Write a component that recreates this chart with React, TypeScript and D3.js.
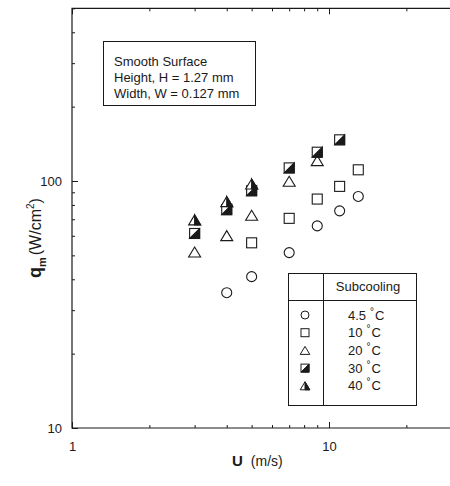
import * as d3 from "d3";
import { useEffect, useRef } from "react";

// flow velocity U (m/s), one column of markers per value
const speeds = [3, 4, 5, 7, 9, 11, 13];

// maximum heat flux q_m (W/cm2), null = no point
const sub45 = [null, 35.3, 41.0, 51.3, 65.8, 75.7, 86.6];
const sub10 = [null, null, 56.2, 70.6, 84.5, 95.1, 111];
const sub20 = [51.6, 60.1, 72.7, 99.7, 120.9, null, null];
const sub30 = [61.3, 76.6, 91.3, 113, 130.8, 146.8, null];
const sub40 = [69.6, 82.5, 97.2, null, null, null, null];

const legendLabels = ["4.5", "10", "20", "30", "40"];
const infoLines = ["Smooth Surface", "Height, H = 1.27 mm", "Width, W = 0.127 mm"];

const xMajor = [1, 10];
const xMinor = [2, 3, 4, 5, 6, 7, 8, 9, 20, 30];
const yMajor = [10, 100];
const yMinor = [20, 30, 40, 50, 60, 70, 80, 90, 200, 300, 400, 500];

type Shape = "circle" | "square" | "triangle" | "halfSquare" | "halfTriangle";
const shapes: Shape[] = ["circle", "square", "triangle", "halfSquare", "halfTriangle"];
const seriesList = [sub45, sub10, sub20, sub30, sub40];

const FONT = "'Liberation Sans', Arial, Helvetica, sans-serif";
const INK = "#1a1a1a";

// draws one marker of a given shape centred at (cx, cy)
const drawMarker = (
	g: d3.Selection<SVGGElement, unknown, null, undefined>,
	shape: Shape,
	cx: number,
	cy: number,
	s: number
) => {
	const h = s / 2;
	if (shape === "circle") {
		g.append("circle")
			.attr("cx", cx)
			.attr("cy", cy)
			.attr("r", h)
			.attr("fill", "white")
			.attr("stroke", INK);
	} else if (shape === "square" || shape === "halfSquare") {
		g.append("rect")
			.attr("x", cx - h)
			.attr("y", cy - h)
			.attr("width", s)
			.attr("height", s)
			.attr("fill", "white")
			.attr("stroke", INK);
		if (shape === "halfSquare") {
			g.append("path")
				.attr("d", `M${cx - h},${cy + h}L${cx + h},${cy - h}L${cx + h},${cy + h}Z`)
				.attr("fill", INK)
				.attr("stroke", INK);
		}
	} else {
		const w = s * 0.6;
		g.append("path")
			.attr("d", `M${cx},${cy - h}L${cx + w},${cy + h}L${cx - w},${cy + h}Z`)
			.attr("fill", "white")
			.attr("stroke", INK)
			.attr("stroke-linejoin", "miter");
		if (shape === "halfTriangle") {
			g.append("path")
				.attr("d", `M${cx},${cy - h}L${cx + w},${cy + h}L${cx},${cy + h}Z`)
				.attr("fill", INK)
				.attr("stroke", INK);
		}
	}
};

const App = () => {
	const svgRef = useRef<SVGSVGElement>(null);

	useEffect(() => {
		if (!svgRef.current) return;

		const width = 450;
		const height = 486;
		const left = 72;
		const bottom = 428;
		const xDecade = 257;
		const yDecade = 247;

		const svg = d3.select(svgRef.current).attr("width", width).attr("height", height);
		svg.selectAll("*").remove();

		const x = d3
			.scaleLog()
			.domain([1, 30])
			.range([left, left + xDecade * Math.log10(30)]);
		const y = d3
			.scaleLog()
			.domain([10, 500])
			.range([bottom, bottom - yDecade * Math.log10(50)]);

		const top = y(500);
		const right = width;

		// cadre : gauche, bas, haut
		svg.append("path")
			.attr("d", `M${right},${top}H${left}V${bottom}H${right}`)
			.attr("fill", "none")
			.attr("stroke", INK)
			.attr("stroke-width", 1.2);

		const axisStyle = (sel: d3.Selection<SVGGElement, unknown, null, undefined>) => {
			sel.select(".domain").remove();
			sel.selectAll("line").attr("stroke", INK);
			sel.selectAll("text")
				.attr("font-family", FONT)
				.attr("font-size", 13)
				.attr("fill", INK);
		};

		// axe des y (ticks vers l'intérieur)
		svg.append("g")
			.attr("transform", `translate(${left},0)`)
			.call(d3.axisLeft(y).tickValues(yMajor).tickSizeInner(-6).tickSizeOuter(0).tickPadding(10).tickFormat(d3.format("d")))
			.call(axisStyle);
		svg.append("g")
			.attr("transform", `translate(${left},0)`)
			.call(d3.axisLeft(y).tickValues(yMinor).tickSizeInner(-3).tickSizeOuter(0).tickFormat(() => ""))
			.call(axisStyle);

		// axe des x en bas
		svg.append("g")
			.attr("transform", `translate(0,${bottom})`)
			.call(d3.axisBottom(x).tickValues(xMajor).tickSizeInner(-6).tickSizeOuter(0).tickPadding(14).tickFormat(d3.format("d")))
			.call(axisStyle);
		svg.append("g")
			.attr("transform", `translate(0,${bottom})`)
			.call(d3.axisBottom(x).tickValues(xMinor).tickSizeInner(-3).tickSizeOuter(0).tickFormat(() => ""))
			.call(axisStyle);

		// axe des x en haut
		svg.append("g")
			.attr("transform", `translate(0,${top})`)
			.call(d3.axisTop(x).tickValues(xMajor).tickSizeInner(-6).tickSizeOuter(0).tickFormat(() => ""))
			.call(axisStyle);
		svg.append("g")
			.attr("transform", `translate(0,${top})`)
			.call(d3.axisTop(x).tickValues(xMinor).tickSizeInner(-3).tickSizeOuter(0).tickFormat(() => ""))
			.call(axisStyle);

		// points
		const pts = svg.append("g").attr("stroke-width", 1.1);
		seriesList.forEach((values, i) => {
			values.forEach((v, j) => {
				if (v == null) return;
				drawMarker(pts, shapes[i], x(speeds[j]), y(v), 10);
			});
		});

		// boîte d'information
		svg.append("rect")
			.attr("x", 103.5)
			.attr("y", 41.5)
			.attr("width", 152)
			.attr("height", 64)
			.attr("fill", "white")
			.attr("stroke", INK)
			.attr("stroke-width", 1);
		infoLines.forEach((t, i) => {
			svg.append("text")
				.attr("x", 114)
				.attr("y", 66 + i * 16)
				.attr("font-family", FONT)
				.attr("font-size", 13)
				.attr("fill", INK)
				.text(t);
		});

		// légende
		const lg = svg.append("g");
		const lx0 = 288.5;
		const lx1 = 416.5;
		const ly0 = 273.5;
		const ly1 = 405.5;
		const divX = 323.5;
		const headY = 300.5;
		lg.append("rect")
			.attr("x", lx0)
			.attr("y", ly0)
			.attr("width", lx1 - lx0)
			.attr("height", ly1 - ly0)
			.attr("fill", "white")
			.attr("stroke", INK);
		lg.append("line").attr("x1", divX).attr("x2", divX).attr("y1", ly0).attr("y2", ly1).attr("stroke", INK);
		lg.append("line").attr("x1", lx0).attr("x2", lx1).attr("y1", headY).attr("y2", headY).attr("stroke", INK);
		lg.append("text")
			.attr("x", 368)
			.attr("y", 291)
			.attr("text-anchor", "middle")
			.attr("font-family", FONT)
			.attr("font-size", 13)
			.attr("fill", INK)
			.text("Subcooling");

		const lgPts = lg.append("g").attr("stroke-width", 1);
		legendLabels.forEach((lab, i) => {
			const cy = 315 + i * 17.7;
			drawMarker(lgPts, shapes[i], 305, cy, 8);
			const t = lg.append("text")
				.attr("x", 348)
				.attr("y", cy + 4.5)
				.attr("font-family", FONT)
				.attr("font-size", 13)
				.attr("fill", INK);
			t.append("tspan").text(lab);
			t.append("tspan").attr("dx", 4).attr("dy", -5).attr("font-size", 10).text("°");
			t.append("tspan").attr("dx", 1).attr("dy", 5).text("C");
		});

		// titre de l'axe des x
		const xl = svg.append("text")
			.attr("x", 232)
			.attr("y", 466)
			.attr("font-family", FONT)
			.attr("font-size", 14)
			.attr("fill", INK);
		xl.append("tspan").attr("font-weight", "bold").attr("font-size", 15).text("U");
		xl.append("tspan").attr("dx", 8).text("(m/s)");

		// titre de l'axe des y
		const yl = svg.append("text")
			.attr("transform", `translate(41,${278}) rotate(-90)`)
			.attr("font-family", FONT)
			.attr("font-size", 16)
			.attr("fill", INK);
		yl.append("tspan").attr("font-weight", "bold").attr("font-size", 18).text("q");
		yl.append("tspan").attr("dy", 5).attr("font-size", 11).attr("font-weight", "bold").text("m");
		yl.append("tspan").attr("dy", -5).attr("dx", 2).text("(W/cm");
		yl.append("tspan").attr("dy", -7).attr("font-size", 10).text("2");
		yl.append("tspan").attr("dy", 7).text(")");
	}, []);

	return (
		<svg
			ref={svgRef}
			style={{ position: "absolute", left: 0, top: 0, background: "white" }}
		></svg>
	);
};

export default App;
